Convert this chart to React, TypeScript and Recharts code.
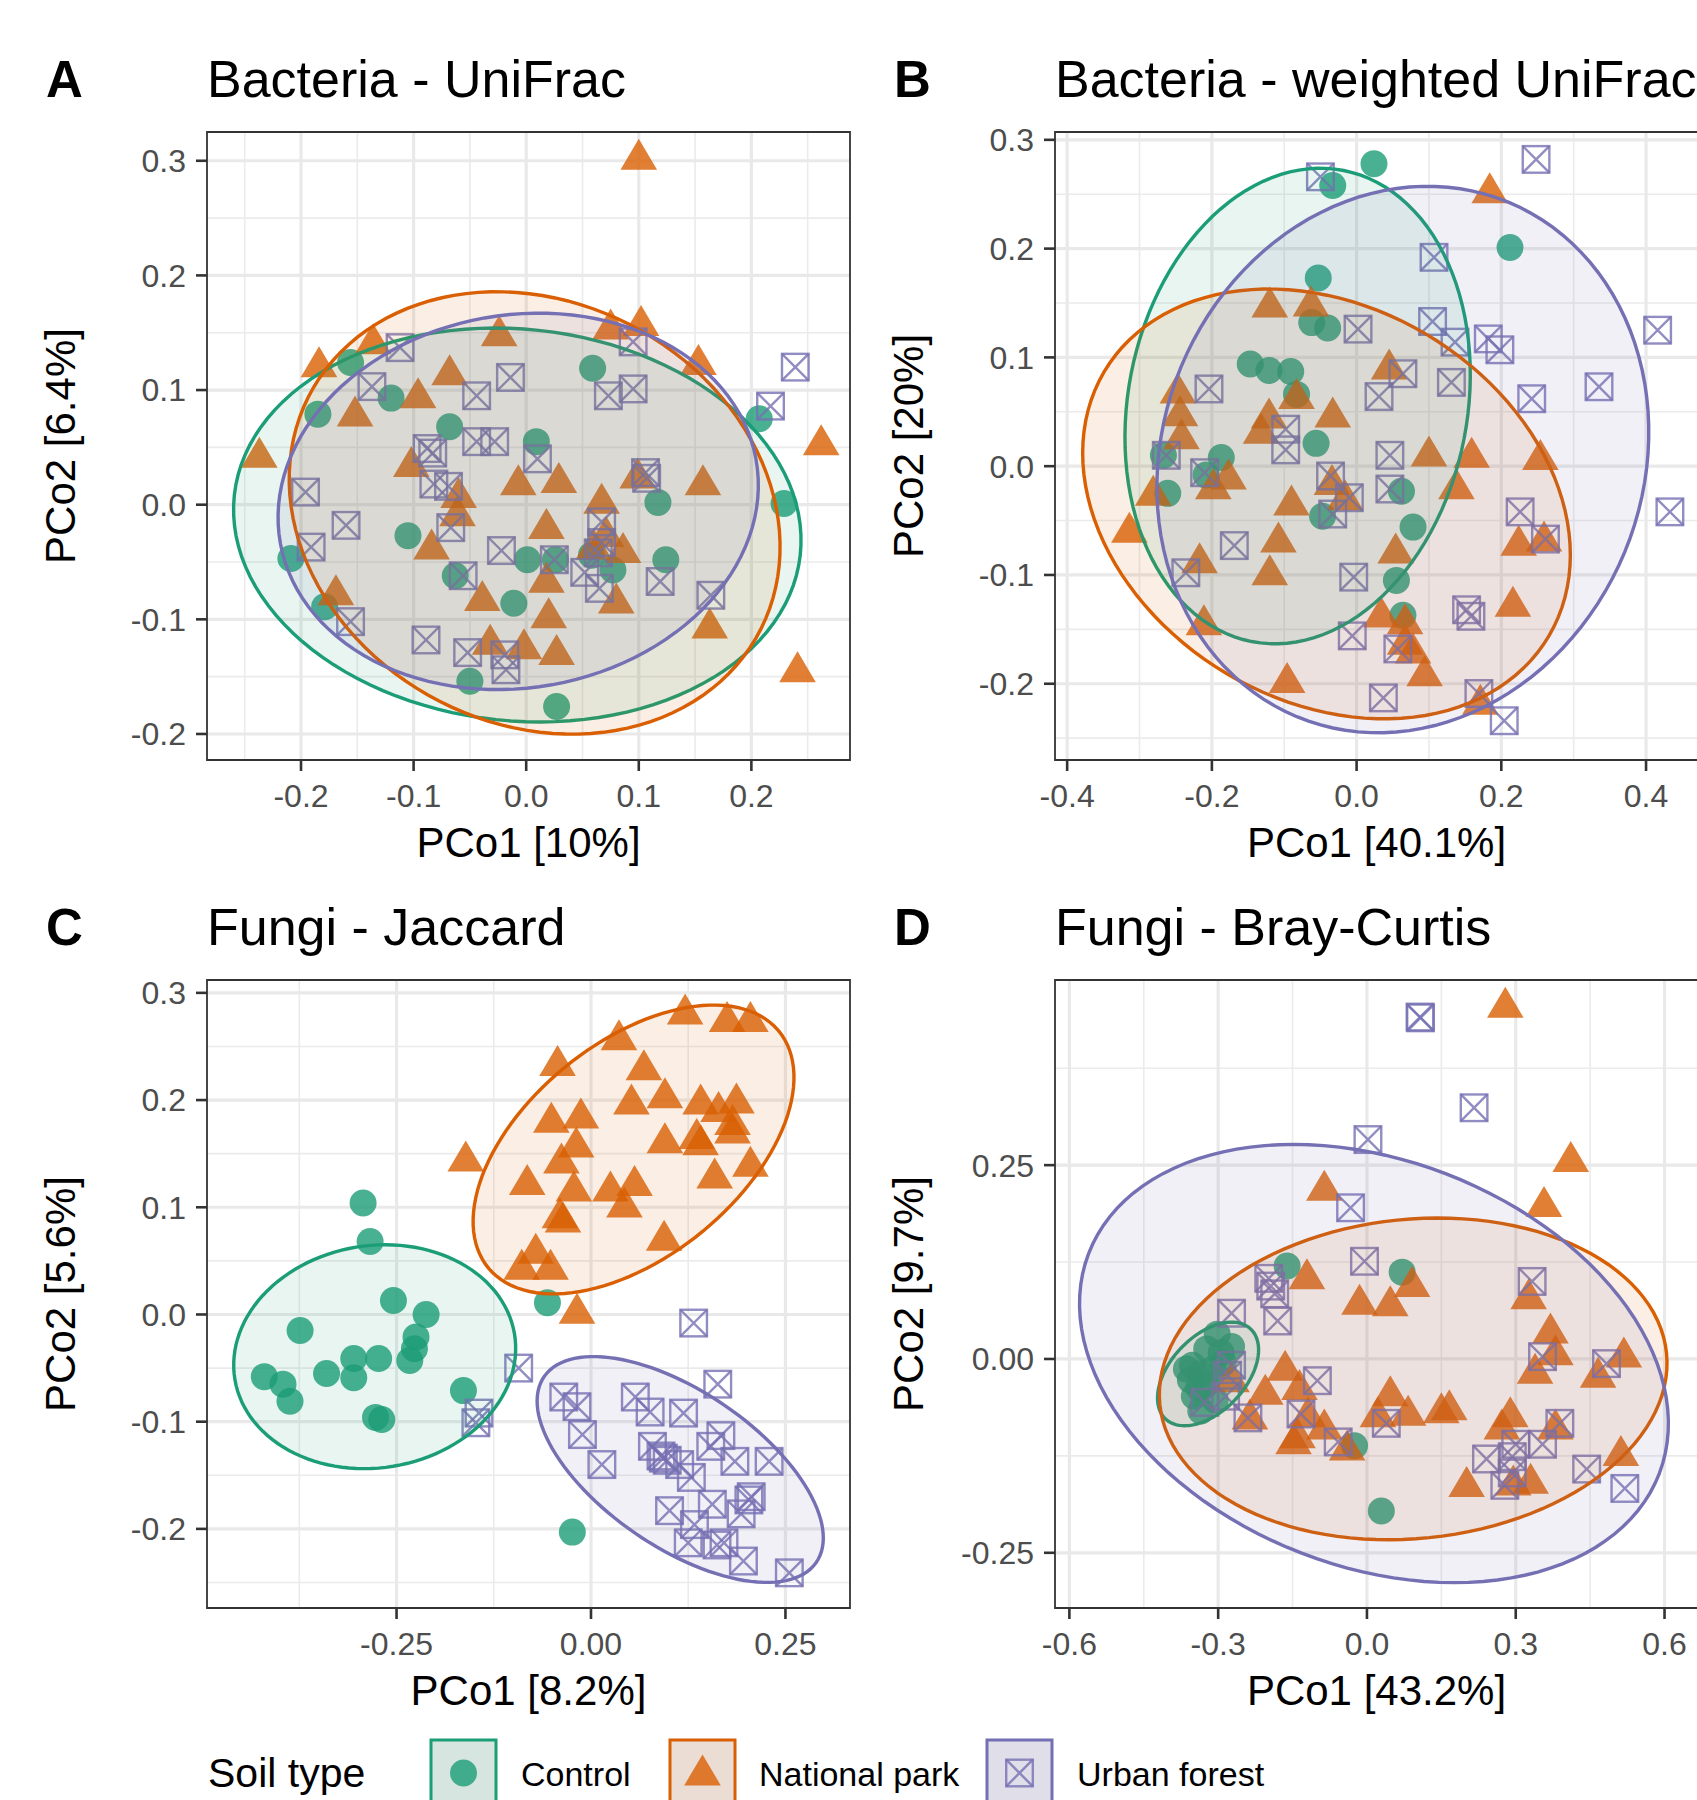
import React from 'react';
import { ScatterChart, Scatter, XAxis, YAxis, CartesianGrid, ReferenceArea } from 'recharts';

const FONT = '"Liberation Sans", Arial, Helvetica, sans-serif';

const GROUPS = ['Control', 'National park', 'Urban forest'];
const COLORS = ['#1B9E77', '#D95F02', '#7570B3'];
const KEY_FILLS = ['#D7E5E0', '#EBDDD3', '#E0DFE9'];

// ---- A: Bacteria - UniFrac ----
const aControl = [[-0.156,0.124],[-0.185,0.079],[-0.12,0.093],[-0.068,0.068],[0.009,0.055],[0.059,0.119],[0.207,0.075],[0.229,0.001],[0.117,0.002],[-0.105,-0.027],[-0.209,-0.047],[-0.179,-0.089],[-0.063,-0.062],[-0.011,-0.086],[0.001,-0.048],[0.026,-0.048],[0.058,-0.044],[0.077,-0.057],[0.124,-0.048],[-0.05,-0.154],[0.027,-0.176]];
const aPark = [[0.1,0.303],[-0.184,0.122],[-0.136,0.142],[-0.024,0.149],[0.075,0.155],[0.102,0.158],[0.153,0.124],[0.262,0.054],[-0.068,0.115],[-0.096,0.095],[-0.152,0.079],[-0.237,0.043],[-0.102,0.035],[-0.06,0.008],[-0.007,0.019],[0.029,0.021],[0.099,0.025],[0.157,0.019],[0.067,0.003],[-0.061,-0.008],[-0.084,-0.037],[0.018,-0.019],[0.071,-0.026],[0.086,-0.04],[0.018,-0.066],[-0.039,-0.082],[0.08,-0.084],[0.02,-0.097],[-0.169,-0.077],[0.163,-0.106],[-0.032,-0.12],[-0.002,-0.124],[0.027,-0.129],[0.241,-0.144],[0.06,-0.037]];
const aUrban = [[-0.112,0.137],[-0.137,0.103],[-0.044,0.095],[-0.014,0.111],[0.073,0.095],[0.095,0.101],[0.095,0.142],[0.239,0.12],[0.217,0.086],[-0.088,0.049],[-0.083,0.045],[-0.044,0.055],[-0.028,0.055],[0.01,0.04],[-0.082,0.018],[-0.069,0.016],[0.106,0.028],[0.107,0.023],[-0.196,0.011],[-0.16,-0.018],[-0.191,-0.037],[-0.067,-0.02],[0.067,-0.015],[0.067,-0.033],[0.064,-0.042],[-0.022,-0.04],[0.025,-0.048],[0.052,-0.059],[0.065,-0.073],[0.119,-0.067],[0.164,-0.079],[-0.056,-0.062],[-0.156,-0.102],[-0.089,-0.118],[-0.052,-0.129],[-0.019,-0.131],[-0.018,-0.144]];
// ellipses: centre x, centre y, then two conjugate semi-axes (ux, uy, vx, vy) in data units
const aEllipses = [[-0.0079,-0.0177,0.2513,-0.0262,0.0189,0.1698],[0.0075,-0.0072,0.1963,-0.1096,0.0948,0.1588],[-0.0071,0.0029,0.2112,0.0368,0.0298,-0.16]];

// ---- B: Bacteria - weighted UniFrac ----
const bControl = [[0.024,0.278],[-0.033,0.258],[0.212,0.201],[-0.053,0.173],[-0.062,0.132],[-0.04,0.127],[-0.147,0.094],[-0.121,0.088],[-0.091,0.087],[-0.083,0.066],[-0.056,0.021],[-0.187,0.008],[-0.267,0.01],[-0.208,-0.008],[-0.261,-0.025],[0.062,-0.023],[-0.047,-0.046],[0.078,-0.056],[0.055,-0.105],[0.064,-0.137]];
const bPark = [[0.184,0.253],[-0.12,0.148],[-0.063,0.149],[0.045,0.091],[-0.247,0.069],[-0.083,0.064],[-0.244,0.048],[-0.033,0.047],[-0.121,0.046],[-0.242,0.027],[-0.132,0.032],[0.1,0.011],[0.159,0.01],[0.254,0.008],[-0.177,-0.01],[-0.198,-0.019],[-0.281,-0.025],[-0.034,-0.015],[-0.016,-0.029],[-0.09,-0.034],[0.138,-0.019],[-0.314,-0.059],[-0.108,-0.068],[0.054,-0.078],[0.224,-0.071],[0.259,-0.067],[-0.217,-0.087],[-0.12,-0.098],[-0.211,-0.144],[0.216,-0.127],[0.034,-0.137],[0.067,-0.143],[0.067,-0.162],[0.078,-0.17],[0.094,-0.191],[-0.096,-0.197],[0.171,-0.217]];
const bUrban = [[-0.05,0.266],[0.248,0.282],[0.107,0.192],[0.105,0.133],[0.002,0.126],[0.136,0.114],[0.182,0.117],[0.198,0.107],[0.416,0.125],[0.064,0.085],[0.131,0.077],[0.031,0.064],[0.242,0.062],[0.335,0.073],[-0.204,0.071],[-0.098,0.034],[-0.098,0.015],[-0.263,0.01],[0.046,0.01],[-0.21,-0.006],[-0.036,-0.009],[0.046,-0.021],[-0.01,-0.029],[-0.033,-0.044],[0.433,-0.042],[0.226,-0.042],[0.261,-0.067],[-0.169,-0.073],[-0.236,-0.098],[-0.004,-0.102],[0.152,-0.132],[0.158,-0.138],[-0.006,-0.156],[0.057,-0.168],[0.037,-0.213],[0.169,-0.209],[0.204,-0.234]];
const bEllipses = [[-0.0815,0.0553,0.0636,0.2165,0.23,-0.0301],[-0.0416,-0.0347,0.3076,-0.1211,0.1376,0.1561],[0.0639,0.0061,0.1465,0.2364,0.3067,-0.0849]];

// ---- C: Fungi - Jaccard ----
const cControl = [[-0.293,0.104],[-0.284,0.068],[-0.254,0.013],[-0.212,0],[-0.374,-0.015],[-0.225,-0.021],[-0.227,-0.032],[-0.305,-0.041],[-0.273,-0.041],[-0.233,-0.043],[-0.42,-0.058],[-0.396,-0.065],[-0.34,-0.055],[-0.305,-0.059],[-0.387,-0.081],[-0.164,-0.071],[-0.277,-0.096],[-0.269,-0.098],[-0.056,0.011],[-0.024,-0.203]];
const cPark = [[0.121,0.282],[0.175,0.275],[0.205,0.275],[0.036,0.258],[-0.043,0.234],[0.068,0.23],[0.095,0.204],[0.052,0.198],[0.141,0.198],[0.164,0.191],[0.187,0.199],[-0.013,0.185],[-0.051,0.181],[0.182,0.179],[0.182,0.171],[0.095,0.162],[0.136,0.166],[0.141,0.16],[-0.019,0.158],[-0.161,0.145],[-0.038,0.143],[0.205,0.14],[0.159,0.129],[-0.082,0.123],[-0.022,0.117],[0.025,0.117],[0.056,0.122],[0.043,0.102],[-0.04,0.092],[-0.036,0.088],[0.094,0.071],[-0.071,0.059],[-0.089,0.044],[-0.052,0.044],[-0.018,0.003]];
const cUrban = [[0.132,-0.008],[-0.093,-0.05],[0.163,-0.065],[-0.144,-0.092],[-0.148,-0.101],[-0.035,-0.077],[-0.018,-0.086],[-0.011,-0.112],[0.014,-0.14],[0.057,-0.077],[0.076,-0.091],[0.119,-0.092],[0.079,-0.123],[0.09,-0.132],[0.098,-0.136],[0.114,-0.14],[0.129,-0.152],[0.154,-0.123],[0.167,-0.113],[0.185,-0.137],[0.229,-0.137],[0.206,-0.17],[0.203,-0.173],[0.156,-0.177],[0.101,-0.183],[0.193,-0.186],[0.133,-0.196],[0.125,-0.213],[0.171,-0.213],[0.162,-0.215],[0.196,-0.23],[0.255,-0.241],[0.093,-0.134]];
const cEllipses = [[-0.2781,-0.0394,0.1797,0.0214,0.0238,-0.1022],[0.0547,0.1539,0.186,0.1111,0.0892,-0.0762],[0.1147,-0.1446,0.1746,-0.087,0.058,0.0594]];

// ---- D: Fungi - Bray-Curtis ----
const dControl = [[-0.161,0.12],[0.071,0.112],[-0.025,-0.112],[0.029,-0.196],[-0.302,0.032],[-0.273,0.016],[-0.323,0.013],[-0.294,0.008],[-0.352,-0.008],[-0.335,-0.019],[-0.31,-0.013],[-0.356,-0.027],[-0.339,-0.037],[-0.323,-0.032],[-0.348,-0.048],[-0.335,-0.067],[-0.29,-0.005],[-0.364,-0.013],[-0.306,-0.053]];
const dPark = [[0.279,0.456],[0.411,0.257],[0.357,0.199],[-0.086,0.22],[-0.121,0.106],[0.091,0.096],[-0.015,0.073],[0.047,0.071],[0.326,0.08],[0.37,0.036],[0.38,0.008],[0.518,0.005],[0.339,-0.016],[0.466,-0.021],[-0.165,-0.012],[-0.273,-0.027],[-0.136,-0.037],[-0.205,-0.043],[-0.236,-0.075],[0.047,-0.045],[0.083,-0.07],[0.022,-0.072],[0.15,-0.067],[0.166,-0.063],[0.289,-0.072],[0.272,-0.088],[0.38,-0.088],[-0.086,-0.088],[-0.14,-0.099],[-0.148,-0.107],[-0.04,-0.115],[0.512,-0.122],[0.201,-0.162],[0.33,-0.158],[0.295,-0.16],[-0.119,-0.072]];
const dUrban = [[0.107,0.441],[0.108,0.44],[0.216,0.324],[0.002,0.283],[-0.033,0.195],[-0.005,0.126],[-0.198,0.104],[-0.194,0.094],[-0.186,0.084],[-0.273,0.059],[-0.18,0.049],[0.333,0.1],[0.354,0.003],[0.483,-0.006],[-0.1,-0.028],[-0.273,-0.008],[-0.281,-0.021],[-0.285,-0.048],[-0.24,-0.076],[-0.133,-0.071],[-0.058,-0.107],[0.039,-0.083],[0.389,-0.083],[0.354,-0.11],[0.3,-0.11],[0.241,-0.129],[0.293,-0.126],[0.293,-0.147],[0.278,-0.163],[0.443,-0.142],[0.52,-0.167],[-0.327,-0.056]];
const dEllipses = [[-0.3204,-0.0193,0.0862,0.0578,0.0543,-0.0335],[0.0932,-0.0257,0.5108,0.0332,0.0323,-0.2048],[0.0141,-0.0059,0.5755,-0.1416,0.1457,0.2446]];

const PANELS = [
  { tag: 'A', title: 'Bacteria - UniFrac', xLabel: 'PCo1 [10%]', yLabel: 'PCo2 [6.4%]', left: 207, top: 132,
    xDomain: [-0.2835, 0.2876], yDomain: [-0.2227, 0.3251],
    xTicks: [-0.2, -0.1, 0, 0.1, 0.2], xMinor: [-0.25, -0.15, -0.05, 0.05, 0.15, 0.25], xDec: 1,
    yTicks: [-0.2, -0.1, 0, 0.1, 0.2, 0.3], yMinor: [-0.15, -0.05, 0.05, 0.15, 0.25], yDec: 1,
    series: [aControl, aPark, aUrban], ellipses: aEllipses },
  { tag: 'B', title: 'Bacteria - weighted UniFrac', xLabel: 'PCo1 [40.1%]', yLabel: 'PCo2 [20%]', left: 1055, top: 132,
    xDomain: [-0.4168, 0.4718], yDomain: [-0.2701, 0.3072],
    xTicks: [-0.4, -0.2, 0, 0.2, 0.4], xMinor: [-0.3, -0.1, 0.1, 0.3], xDec: 1,
    yTicks: [-0.2, -0.1, 0, 0.1, 0.2, 0.3], yMinor: [-0.25, -0.15, -0.05, 0.05, 0.15, 0.25], yDec: 1,
    series: [bControl, bPark, bUrban], ellipses: bEllipses },
  { tag: 'C', title: 'Fungi - Jaccard', xLabel: 'PCo1 [8.2%]', yLabel: 'PCo2 [5.6%]', left: 207, top: 980,
    xDomain: [-0.4937, 0.333], yDomain: [-0.2738, 0.312],
    xTicks: [-0.25, 0, 0.25], xMinor: [-0.375, -0.125, 0.125], xDec: 2,
    yTicks: [-0.2, -0.1, 0, 0.1, 0.2, 0.3], yMinor: [-0.25, -0.15, -0.05, 0.05, 0.15, 0.25], yDec: 1,
    series: [cControl, cPark, cUrban], ellipses: cEllipses },
  { tag: 'D', title: 'Fungi - Bray-Curtis', xLabel: 'PCo1 [43.2%]', yLabel: 'PCo2 [9.7%]', left: 1055, top: 980,
    xDomain: [-0.629, 0.6675], yDomain: [-0.3212, 0.4888],
    xTicks: [-0.6, -0.3, 0, 0.3, 0.6], xMinor: [-0.45, -0.15, 0.15, 0.45], xDec: 1,
    yTicks: [-0.25, 0, 0.25], yMinor: [-0.125, 0.125, 0.375], yDec: 2,
    series: [dControl, dPark, dUrban], ellipses: dEllipses },
];

const PW = 643;
const PH = 628;
const YW = 120;
const XH = 70;
const M = 24;

const toPoints = (arr: number[][]) => arr.map(([x, y]) => ({ x, y }));

// outline of a stat_ellipse from its centre and semi-axes
const ellipsePoints = (e: number[]) => {
  const [cx, cy, ux, uy, vx, vy] = e;
  const out = [];
  for (let i = 0; i < 120; i++) {
    const t = (i / 120) * Math.PI * 2;
    out.push({ x: cx + ux * Math.cos(t) + vx * Math.sin(t), y: cy + uy * Math.cos(t) + vy * Math.sin(t) });
  }
  return out;
};

const CircleDot = ({ cx, cy }: any) => <circle cx={cx} cy={cy} r={13.5} fill={COLORS[0]} fillOpacity={0.8} />;

const TriangleDot = ({ cx, cy }: any) => (
  <path d={`M${cx},${cy - 18.6}L${cx + 18.3},${cy + 12.4}L${cx - 18.3},${cy + 12.4}Z`} fill={COLORS[1]} fillOpacity={0.8} />
);

const SquareDot = ({ cx, cy }: any) => {
  const h = 13.3;
  return (
    <g stroke={COLORS[2]} strokeOpacity={0.8} strokeWidth={2.4} fill="none">
      <rect x={cx - h} y={cy - h} width={2 * h} height={2 * h} />
      <path d={`M${cx - h},${cy - h}L${cx + h},${cy + h}M${cx + h},${cy - h}L${cx - h},${cy + h}`} />
    </g>
  );
};

const SHAPES = [CircleDot, TriangleDot, SquareDot];

const ellipseLine = (color: string) => (props: any) => {
  const pts = props.points || [];
  const d = pts.map((p: any, i: number) => `${i ? 'L' : 'M'}${p.x},${p.y}`).join('') + 'Z';
  return <path d={d} fill={color} fillOpacity={0.1} stroke={color} strokeWidth={3.4} />;
};

const tickStyle = { fill: '#4D4D4D', fontSize: 32, fontFamily: FONT };
const tickLineStyle = { stroke: '#333333', strokeWidth: 2.6 };

function Panel({ p }: { p: any }) {
  return (
    <div style={{ position: 'absolute', left: p.left - YW, top: p.top - M }}>
      <ScatterChart width={YW + PW + 4} height={M + PH + XH} margin={{ top: M, right: 4, bottom: 0, left: 0 }}>
        <CartesianGrid stroke="#EBEBEB" strokeWidth={1.6} verticalValues={p.xMinor} horizontalValues={p.yMinor} />
        <CartesianGrid stroke="#E9E9E9" strokeWidth={3.2} verticalValues={p.xTicks} horizontalValues={p.yTicks} />
        <XAxis type="number" dataKey="x" domain={p.xDomain} allowDataOverflow ticks={p.xTicks} interval={0}
          height={XH} axisLine={false} tickSize={11} tickMargin={13} tickLine={tickLineStyle} tick={tickStyle}
          tickFormatter={(v: number) => v.toFixed(p.xDec)} />
        <YAxis type="number" dataKey="y" domain={p.yDomain} allowDataOverflow ticks={p.yTicks} interval={0}
          width={YW} axisLine={false} tickSize={11} tickMargin={10} tickLine={tickLineStyle} tick={tickStyle}
          tickFormatter={(v: number) => v.toFixed(p.yDec)} />
        {p.series.map((s: number[][], i: number) => (
          <Scatter key={GROUPS[i]} name={GROUPS[i]} data={toPoints(s)} shape={SHAPES[i]} isAnimationActive={false} />
        ))}
        {p.ellipses.map((e: number[], i: number) => (
          <Scatter key={'ell' + i} data={ellipsePoints(e)} shape={() => <g />} line={ellipseLine(COLORS[i])}
            lineType="joint" isAnimationActive={false} />
        ))}
        <ReferenceArea x1={p.xDomain[0]} x2={p.xDomain[1]} y1={p.yDomain[0]} y2={p.yDomain[1]}
          fill="none" fillOpacity={0} stroke="#333333" strokeWidth={1.8} ifOverflow="visible" />
      </ScatterChart>
    </div>
  );
}

const LEGEND_KEY_X = [431, 670, 987];
const LEGEND_TEXT_X = [521, 759, 1077];

export default function App() {
  return (
    <div style={{ position: 'absolute', left: 0, top: 0, width: 1697, height: 1800, overflow: 'hidden', background: '#fff', fontFamily: FONT }}>
      {PANELS.map((p) => <Panel key={p.tag} p={p} />)}
      <svg width={1697} height={1800} style={{ position: 'absolute', left: 0, top: 0, pointerEvents: 'none' }} fontFamily={FONT}>
        {PANELS.map((p) => (
          <g key={p.tag}>
            <text x={p.left - 161} y={p.top - 35} fontSize={51} fontWeight="bold" fill="#000">{p.tag}</text>
            <text x={p.left} y={p.top - 35} fontSize={52} fill="#000">{p.title}</text>
            <text x={p.left + PW / 2} y={p.top + PH + 97} fontSize={42} textAnchor="middle" fill="#000">{p.xLabel}</text>
            <text transform={`translate(${p.left - 132},${p.top + PH / 2}) rotate(-90)`} fontSize={42} textAnchor="middle" fill="#000">{p.yLabel}</text>
          </g>
        ))}
        <text x={208} y={1787} fontSize={41} fill="#000">Soil type</text>
        {GROUPS.map((g, i) => {
          const Shape = SHAPES[i];
          const kx = LEGEND_KEY_X[i];
          return (
            <g key={g}>
              <rect x={kx} y={1740} width={65} height={80} fill={KEY_FILLS[i]} stroke={COLORS[i]} strokeWidth={3} />
              <Shape cx={kx + 32.5} cy={1773} />
              <text x={LEGEND_TEXT_X[i]} y={1786} fontSize={34} fill="#000">{g}</text>
            </g>
          );
        })}
      </svg>
    </div>
  );
}
